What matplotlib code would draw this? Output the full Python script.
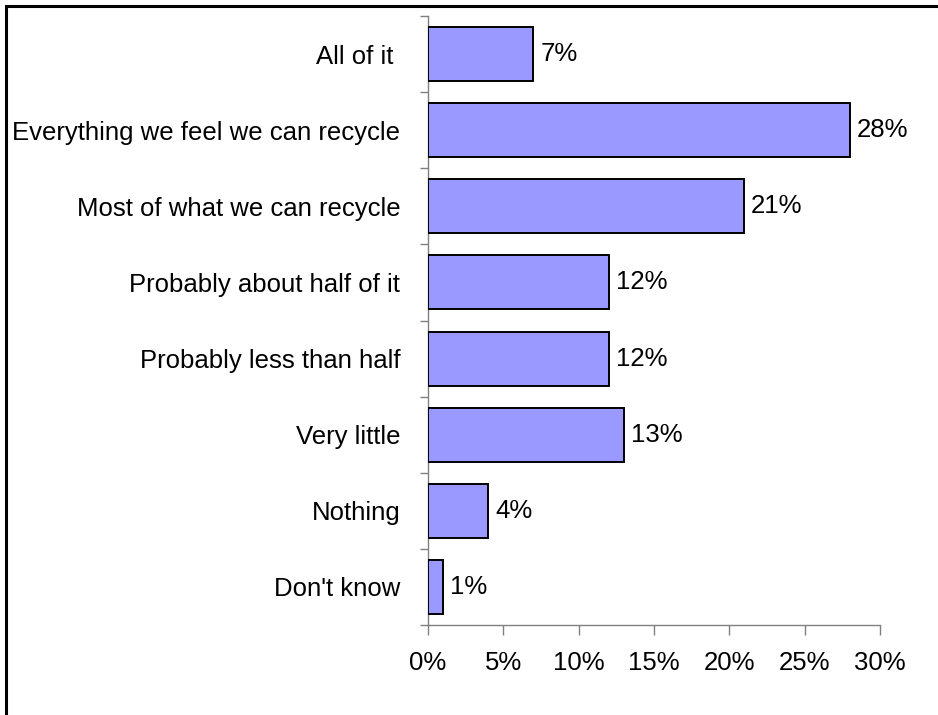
import matplotlib
matplotlib.use("Agg")
import matplotlib.pyplot as plt
from matplotlib.patches import Rectangle
from matplotlib.ticker import FixedLocator, PercentFormatter

categories = ["All of it ", "Everything we feel we can recycle", "Most of what we can recycle",
              "Probably about half of it", "Probably less than half", "Very little",
              "Nothing", "Don't know"]
values = [7, 28, 21, 12, 12, 13, 4, 1]
xticks = [0, 5, 10, 15, 20, 25, 30]

plt.rcParams['font.family'] = ['Liberation Sans', 'DejaVu Sans']
FS = 18.5
W, H = 938, 715
fig = plt.figure(figsize=(W / 100, H / 100), dpi=100)
fig.patches.append(Rectangle((6 / W, -0.1), 1.2, 1.1 - 6 / H, transform=fig.transFigure,
                             fill=False, edgecolor='black', linewidth=2.2, zorder=10))

ax = fig.add_axes([428 / W, 1 - 625 / H, (880 - 428) / W, (625 - 16) / H])
n = len(categories)
ypos = list(range(n))
ax.barh(ypos, values, height=0.71, color='#9999FF', edgecolor='black', linewidth=1.4, zorder=3)
for y, v in zip(ypos, values):
    ax.text(v + 0.45, y, f"{v}%", va='center', ha='left', fontsize=FS)

ax.set_ylim(n - 0.5, -0.5)
ax.set_xlim(0, 30)
ax.set_yticks(ypos)
ax.set_yticklabels(categories, fontsize=FS)
ax.yaxis.set_minor_locator(FixedLocator([i - 0.5 for i in range(n + 1)]))
ax.tick_params(axis='y', which='major', length=0, pad=20)
ax.tick_params(axis='y', which='minor', length=6, color='#808080', width=1)
ax.set_xticks(xticks)
ax.xaxis.set_major_formatter(PercentFormatter(decimals=0))
ax.tick_params(axis='x', length=7, color='#808080', width=1, labelsize=FS, pad=12)

for s in ['top', 'right']:
    ax.spines[s].set_visible(False)
for s in ['left', 'bottom']:
    ax.spines[s].set_color('#808080')
    ax.spines[s].set_linewidth(1)

fig.savefig("out.png", dpi=100)
